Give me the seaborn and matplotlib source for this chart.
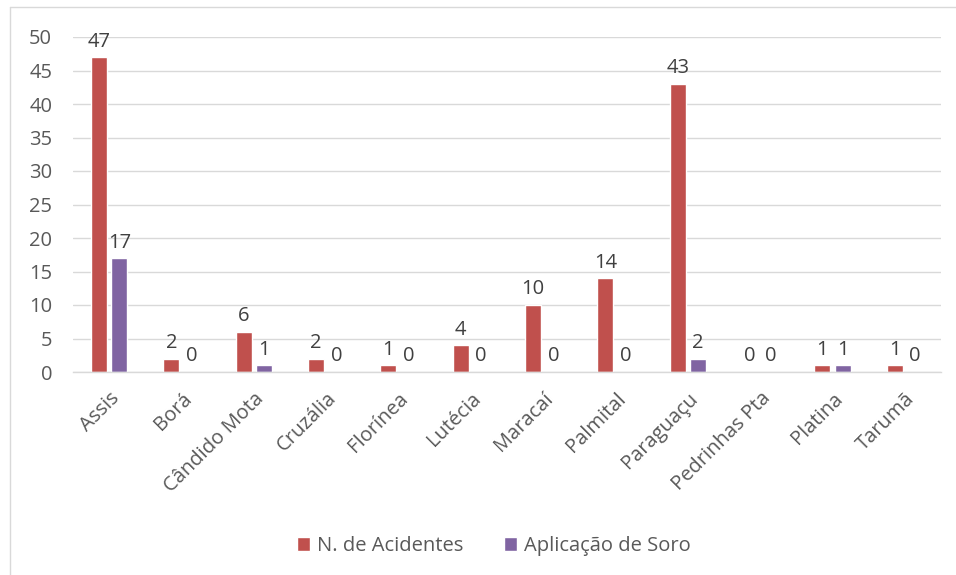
import pandas as pd
import seaborn as sns
import matplotlib.pyplot as plt
from matplotlib.lines import Line2D

# Data
municipios = ['Assis', 'Borá', 'Cândido Mota', 'Cruzália', 'Florínea', 'Lutécia',
              'Maracaí', 'Palmital', 'Paraguaçu', 'Pedrinhas Pta', 'Platina', 'Tarumã']
acidentes = [47, 2, 6, 2, 1, 4, 10, 14, 43, 0, 1, 1]
soro = [17, 0, 1, 0, 0, 0, 0, 0, 2, 0, 1, 0]
series = ['N. de Acidentes', 'Aplicação de Soro']
cores = ['#C0504D', '#8064A2']

df = pd.DataFrame({'municipio': municipios, series[0]: acidentes, series[1]: soro})
df_long = pd.melt(df, id_vars=['municipio'], value_vars=series,
                  var_name='serie', value_name='valor')

sns.set_style('white')
plt.rcParams['font.family'] = ['Open Sans', 'DejaVu Sans']
texto = '#595959'
fs = 14.5

fig = plt.figure(figsize=(9.56, 5.75), dpi=100)
ax = fig.add_axes([73 / 956, 1 - 372 / 575, 868 / 956, 335 / 575])

sns.barplot(data=df_long, x='municipio', y='valor', hue='serie', order=municipios,
            hue_order=series, palette=cores, width=0.56, gap=0.22,
            saturation=1, ax=ax, legend=True)

# value labels above each bar
for cont in ax.containers:
    ax.bar_label(cont, fmt='%d', padding=4, fontsize=fs, color='#404040')

ax.set_ylim(0, 50)
ax.set_yticks(range(0, 51, 5))
ax.set_xlim(-0.5, len(municipios) - 0.5)
ax.grid(axis='y', color='#D9D9D9', linewidth=1)
ax.set_axisbelow(True)
for s in ['top', 'right', 'left']:
    ax.spines[s].set_visible(False)
ax.spines['bottom'].set_color('#D9D9D9')
ax.spines['bottom'].set_linewidth(1)
ax.set_xlabel('')
ax.set_ylabel('')
ax.tick_params(axis='both', length=0, labelsize=fs, colors=texto)
ax.tick_params(axis='y', pad=15)
ax.tick_params(axis='x', pad=12)
plt.setp(ax.get_xticklabels(), rotation=45, ha='right', rotation_mode='anchor')

leg = ax.legend(loc='center', bbox_to_anchor=(0.485, -0.52), ncol=2, frameon=False,
                fontsize=fs, handlelength=0.65, handleheight=0.65, columnspacing=2.0,
                handletextpad=0.35)
for t in leg.get_texts():
    t.set_color(texto)

# chart frame (cropped: only top and left edges visible)
fig.add_artist(Line2D([10 / 956, 10 / 956], [0, 1 - 7 / 575], color='#D9D9D9', lw=1))
fig.add_artist(Line2D([10 / 956, 1], [1 - 7 / 575, 1 - 7 / 575], color='#D9D9D9', lw=1))

fig.savefig('out.png')
